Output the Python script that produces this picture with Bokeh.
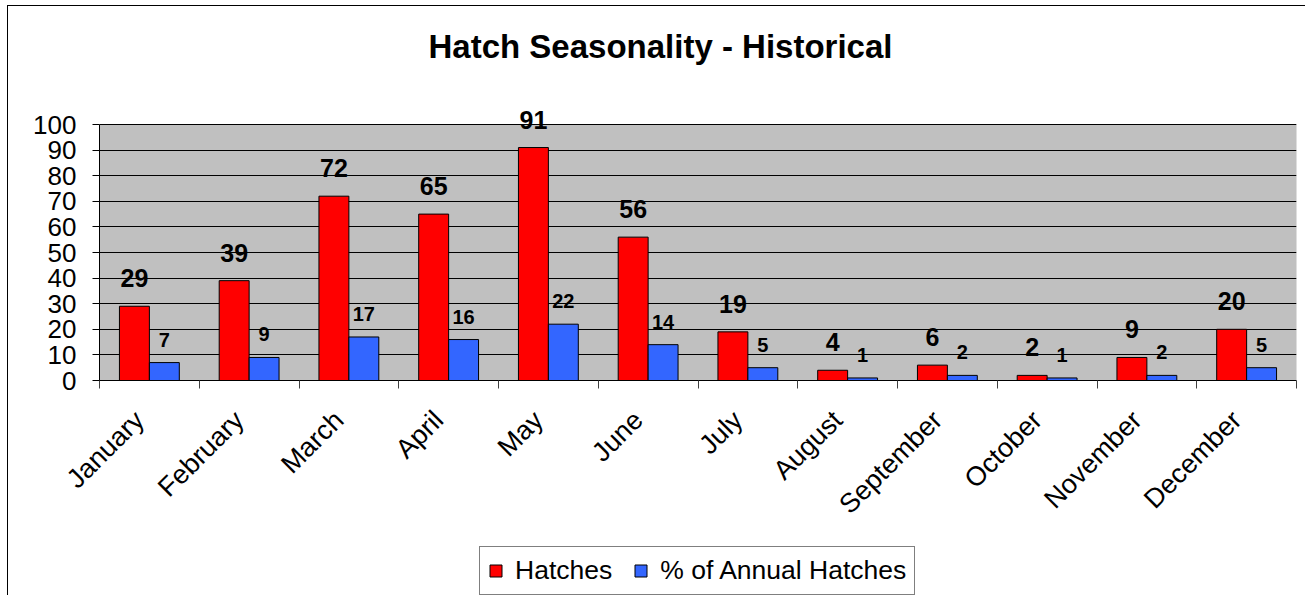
from bokeh.plotting import figure
from bokeh.models import (ColumnDataSource, Range1d, FixedTicker, LabelSet, Legend,
                          LegendItem, BoxAnnotation, Title, Spacer, Row, Column)
from bokeh.core.properties import value
from bokeh.embed import file_html
from bokeh.resources import INLINE
from math import pi

months = ["January", "February", "March", "April", "May", "June", "July",
          "August", "September", "October", "November", "December"]
hatches = [29, 39, 72, 65, 91, 56, 19, 4, 6, 2, 9, 20]
pct_annual = [7, 9, 17, 16, 22, 14, 5, 1, 2, 1, 2, 5]
y_ticks = list(range(0, 101, 10))
series_names = ["Hatches", "% of Annual Hatches"]
series_colors = ["#FF0000", "#3366FF"]

FONT = "Liberation Sans"
BAR_W = 0.3
Y_MAX = 100
Y_TOP = 107.8125  # headroom so that the tallest value label is not clipped
centers = [i + 0.5 for i in range(len(months))]
bounds = [float(i) for i in range(len(months) + 1)]
label_pos = [c - 0.1 for c in centers]

src = ColumnDataSource(dict(
    xr=[c - BAR_W / 2 for c in centers],
    xb=[c + BAR_W / 2 for c in centers],
    hatches=hatches,
    pct=pct_annual,
    hl=[str(v) for v in hatches],
    pl=[str(v) for v in pct_annual],
))

p = figure(width=1297, height=539, output_backend="svg", toolbar_location=None,
           x_range=Range1d(0, len(months)), y_range=Range1d(0, Y_TOP),
           min_border_left=91, min_border_right=9, min_border_top=98,
           min_border_bottom=165)

p.title.text = "Hatch Seasonality - Historical"
p.title.align = "left"
p.title.offset = 329
p.title.text_font = FONT
p.title.text_font_size = "33px"
p.title.text_font_style = "bold"
p.title.text_color = "black"
p.title.standoff = 10
# spacing between title and plot area
p.add_layout(Title(text=" ", text_font_size="10px", standoff=22), "above")

p.background_fill_color = "white"
p.border_fill_color = "white"
p.outline_line_color = None

# gray plot area (0..100) drawn beneath grid and bars
p.add_layout(BoxAnnotation(left=0, right=len(months), bottom=0, top=Y_MAX,
                           fill_color="#C0C0C0", fill_alpha=1,
                           line_color="#808080", line_width=1, level="image"))

p.vbar(x="xr", top="hatches", width=BAR_W, source=src,
       fill_color=series_colors[0], line_color="black", line_width=1)
p.vbar(x="xb", top="pct", width=BAR_W, source=src,
       fill_color=series_colors[1], line_color="black", line_width=1)

p.add_layout(LabelSet(x="xr", y="hatches", text="hl", source=src, y_offset=19,
                      text_align="center", text_baseline="alphabetic",
                      text_font=value(FONT), text_font_size="25px",
                      text_font_style="bold", text_color="black"))
p.add_layout(LabelSet(x="xb", y="pct", text="pl", source=src, y_offset=16,
                      text_align="center", text_baseline="alphabetic",
                      text_font=value(FONT), text_font_size="20px",
                      text_font_style="bold", text_color="black"))

# grid
p.xgrid.grid_line_color = None
p.ygrid.grid_line_color = "black"
p.ygrid.grid_line_width = 1
p.ygrid.ticker = FixedTicker(ticks=y_ticks)

# y axis
p.yaxis.ticker = FixedTicker(ticks=y_ticks)
p.yaxis.bounds = (0, Y_MAX)
p.yaxis.axis_line_color = "black"
p.yaxis.major_tick_in = 0
p.yaxis.major_tick_out = 7
p.yaxis.minor_tick_line_color = None
p.yaxis.major_label_text_font = FONT
p.yaxis.major_label_text_font_size = "26px"
p.yaxis.major_label_text_color = "black"
p.yaxis.major_label_standoff = 16

# x axis: ticks at category boundaries, labels near centres
p.xaxis.ticker = FixedTicker(ticks=label_pos, minor_ticks=bounds)
p.xaxis.major_label_overrides = {c: m for c, m in zip(label_pos, months)}
p.xaxis.major_tick_line_color = None
p.xaxis.minor_tick_line_color = "#404040"
p.xaxis.minor_tick_in = 0
p.xaxis.minor_tick_out = 8
p.xaxis.axis_line_color = "black"
p.xaxis.major_label_orientation = pi / 4
p.xaxis.major_label_text_font = FONT
p.xaxis.major_label_text_font_size = "27px"
p.xaxis.major_label_text_color = "black"
p.xaxis.major_label_standoff = 27

# legend (separate small figure under the chart)
lg = figure(width=460, height=50, output_backend="svg", toolbar_location=None,
            x_axis_type=None, y_axis_type=None, min_border=0,
            x_range=Range1d(0, 1), y_range=Range1d(0, 1))
lg.outline_line_color = None
lg.background_fill_color = "white"
lg.grid.grid_line_color = None
items = []
for name, col in zip(series_names, series_colors):
    # off-screen swatch renderer, only used for the legend glyph
    r = lg.vbar(x=[-5], top=[0], width=0.1, fill_color=col, line_color="black")
    items.append(LegendItem(label=name, renderers=[r]))
legend = Legend(items=items, orientation="horizontal", location="top_left",
                label_text_font=FONT, label_text_font_size="26.5px",
                label_text_color="black",
                glyph_width=15, glyph_height=15, label_standoff=12, spacing=21,
                padding=8, margin=1,
                border_line_color="black", border_line_width=1,
                background_fill_color="white", background_fill_alpha=1.0)
lg.add_layout(legend, "center")

layout = Column(children=[p, Row(children=[Spacer(width=470, height=50), lg])],
                styles={"margin-left": "7px", "margin-top": "5px",
                        "border-left": "1px solid black",
                        "border-top": "1px solid black"})

open("out.html", "w").write(file_html(layout, INLINE))
